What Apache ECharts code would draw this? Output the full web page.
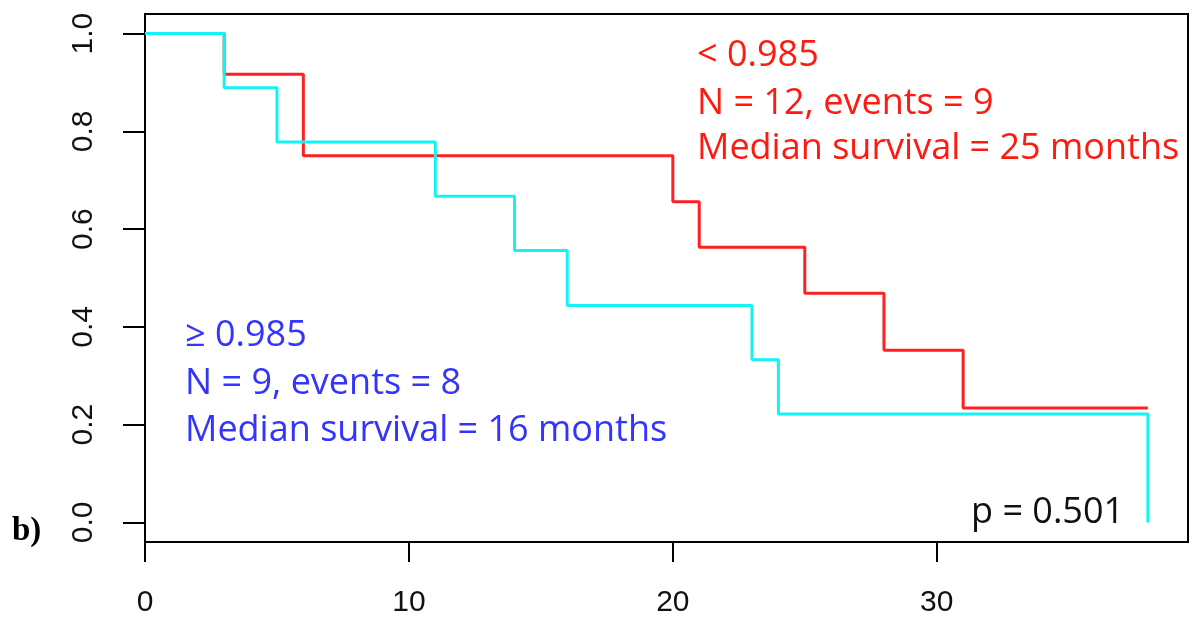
<!DOCTYPE html>
<html><head><meta charset="utf-8">
<script src="https://cdn.jsdelivr.net/npm/echarts@6/dist/echarts.min.js"></script>
<style>html,body{margin:0;padding:0;background:#fff}#c{width:1197px;height:621px}</style>
</head><body><div id="c"></div>
<script>
// Kaplan-Meier steps
const redTime  = [0, 3, 6, 20, 21, 25, 28, 31, 38];
const redSurv  = [1, 0.917, 0.75, 0.656, 0.563, 0.469, 0.352, 0.234, 0.234];
const cyanTime = [0, 3, 5, 11, 14, 16, 23, 24, 38, 38];
const cyanSurv = [1, 0.889, 0.778, 0.667, 0.556, 0.444, 0.333, 0.222, 0.222, 0];
const xTicks = [0, 10, 20, 30];
const yTicks = [0, 0.2, 0.4, 0.6, 0.8, 1.0];
const redLines  = ['< 0.985', 'N = 12, events = 9', 'Median survival = 25 months'];
const blueLines = ['\u2265 0.985', 'N = 9, events = 8', 'Median survival = 16 months'];
const pText = 'p = 0.501';
const panelLabel = 'b)';

const RED = '#ff2020', CYAN = '#12f4f4', RED_T = '#ff1a10', BLUE_T = '#3434ff';
const annFont = '36px "Open Sans"';

const chart = echarts.init(document.getElementById('c'), null, {renderer: 'canvas'});
const zip = (a, b) => a.map((v, i) => [v, b[i]]);

const graphics = [];
redLines.forEach((t, i) => graphics.push({type: 'text', x: 697, y: [56, 103.5, 149][i],
  style: {text: t, fill: RED_T, font: annFont, textAlign: 'left', textVerticalAlign: 'middle'}}));
blueLines.forEach((t, i) => graphics.push({type: 'text', x: 185, y: [336, 383.5, 431][i],
  style: {text: t, fill: BLUE_T, font: annFont, textAlign: 'left', textVerticalAlign: 'middle'}}));
graphics.push({type: 'text', x: 971, y: 513,
  style: {text: pText, fill: '#111', font: annFont, textAlign: 'left', textVerticalAlign: 'middle'}});
graphics.push({type: 'text', x: 12, y: 531,
  style: {text: panelLabel, fill: '#000', font: 'bold 33px "Liberation Serif"', textAlign: 'left', textVerticalAlign: 'middle'}});

chart.setOption({
  animation: false,
  backgroundColor: '#fff',
  grid: {left: 145, right: 9, top: 14, bottom: 79, show: true, borderColor: '#000', borderWidth: 2, backgroundColor: 'transparent'},
  xAxis: {
    type: 'value', min: 0, max: 39.52, position: 'bottom',
    axisLine: {show: true, onZero: false, lineStyle: {color: '#000', width: 2}},
    splitLine: {show: false},
    axisTick: {show: true, inside: false, length: 20, customValues: xTicks, lineStyle: {color: '#000', width: 2}},
    axisLabel: {customValues: xTicks, inside: false, margin: 46, color: '#111', fontSize: 30, fontFamily: 'Liberation Sans',
      formatter: v => String(v)}
  },
  yAxis: {
    type: 'value', min: -0.04, max: 1.04, position: 'left',
    axisLine: {show: true, onZero: false, lineStyle: {color: '#000', width: 2}},
    splitLine: {show: false},
    axisTick: {show: true, inside: false, length: 22, customValues: yTicks, lineStyle: {color: '#000', width: 2}},
    axisLabel: {customValues: yTicks, inside: false, margin: 46, rotate: 90, color: '#111', fontSize: 30, fontFamily: 'Liberation Sans',
      formatter: v => v.toFixed(1)}
  },
  series: [
    {type: 'line', step: 'end', data: zip(redTime, redSurv), symbol: 'none',
     lineStyle: {color: RED, width: 3}, z: 2},
    {type: 'line', step: 'end', data: zip(cyanTime, cyanSurv), symbol: 'none',
     lineStyle: {color: CYAN, width: 3}, z: 3}
  ],
  graphic: graphics
});
</script></body></html>
